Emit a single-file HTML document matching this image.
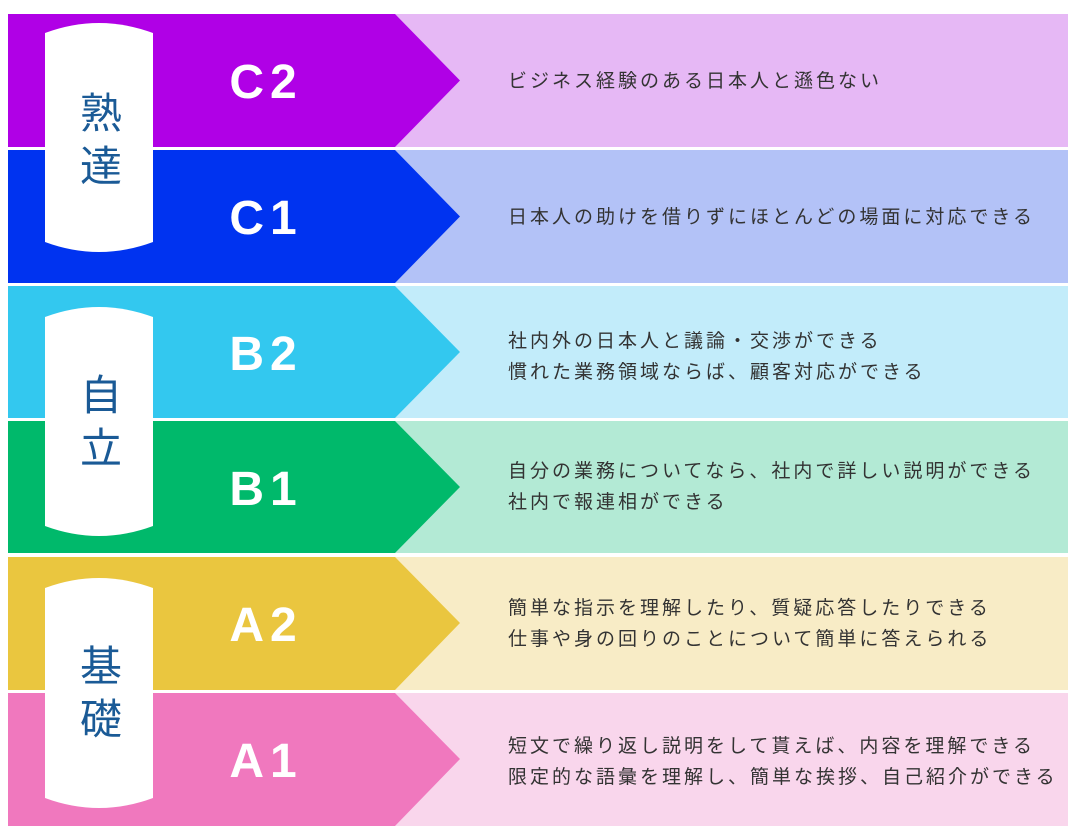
<!DOCTYPE html><html><head><meta charset="utf-8"><style>body{margin:0;background:#fff}svg{display:block}</style></head><body>
<svg width="1080" height="840" xmlns="http://www.w3.org/2000/svg" font-family="'Liberation Sans','Noto Sans CJK JP',sans-serif">
<g>
<rect x="395" y="14" width="673" height="133" fill="#e6b8f5"/><polygon points="8,14 395,14 460,80.5 395,147 8,147" fill="#b000e6"/>
<rect x="395" y="150" width="673" height="133" fill="#b3c2f7"/><polygon points="8,150 395,150 460,216.5 395,283 8,283" fill="#0033f0"/>
<rect x="395" y="286" width="673" height="132" fill="#c2ecfa"/><polygon points="8,286 395,286 460,352 395,418 8,418" fill="#33c8ef"/>
<rect x="395" y="421" width="673" height="132" fill="#b3ead5"/><polygon points="8,421 395,421 460,487 395,553 8,553" fill="#00b96b"/>
<rect x="395" y="557" width="673" height="133" fill="#f8ecc6"/><polygon points="8,557 395,557 460,623 395,690 8,690" fill="#eac63f"/>
<rect x="395" y="693" width="673" height="133" fill="#f9d6ec"/><polygon points="8,693 395,693 460,759 395,826 8,826" fill="#f078be"/>
</g>
<g fill="#fff">
<path d="M45,33 Q99,13 153,33 L153,242 Q99,262 45,242 Z"/>
<path d="M45,317 Q99,297 153,317 L153,526 Q99,546 45,526 Z"/>
<path d="M45,588 Q99,568 153,588 L153,798 Q99,818 45,798 Z"/>
</g>
<g fill="#1a5a96" font-size="42" text-anchor="middle">
<text x="101" y="128">熟</text><text x="101" y="181">達</text>
<text x="101" y="410">自</text><text x="101" y="463">立</text>
<text x="101" y="681">基</text><text x="101" y="734">礎</text>
</g>
<g fill="#fff" font-size="48" font-weight="bold" text-anchor="middle" letter-spacing="6">
<text x="266" y="98">C2</text><text x="266" y="234">C1</text>
<text x="266" y="370">B2</text><text x="266" y="505">B1</text>
<text x="266" y="641">A2</text><text x="266" y="777">A1</text>
</g>
<g fill="#333" font-size="19" letter-spacing="3">
<text x="508" y="87">ビジネス経験のある日本人と遜色ない</text>
<text x="508" y="223">日本人の助けを借りずにほとんどの場面に対応できる</text>
<text x="508" y="347">社内外の日本人と議論・交渉ができる</text>
<text x="508" y="378">慣れた業務領域ならば、顧客対応ができる</text>
<text x="508" y="477">自分の業務についてなら、社内で詳しい説明ができる</text>
<text x="508" y="508">社内で報連相ができる</text>
<text x="508" y="614">簡単な指示を理解したり、質疑応答したりできる</text>
<text x="508" y="645">仕事や身の回りのことについて簡単に答えられる</text>
<text x="508" y="752">短文で繰り返し説明をして貰えば、内容を理解できる</text>
<text x="508" y="783">限定的な語彙を理解し、簡単な挨拶、自己紹介ができる</text>
</g>
</svg>
</body></html>
